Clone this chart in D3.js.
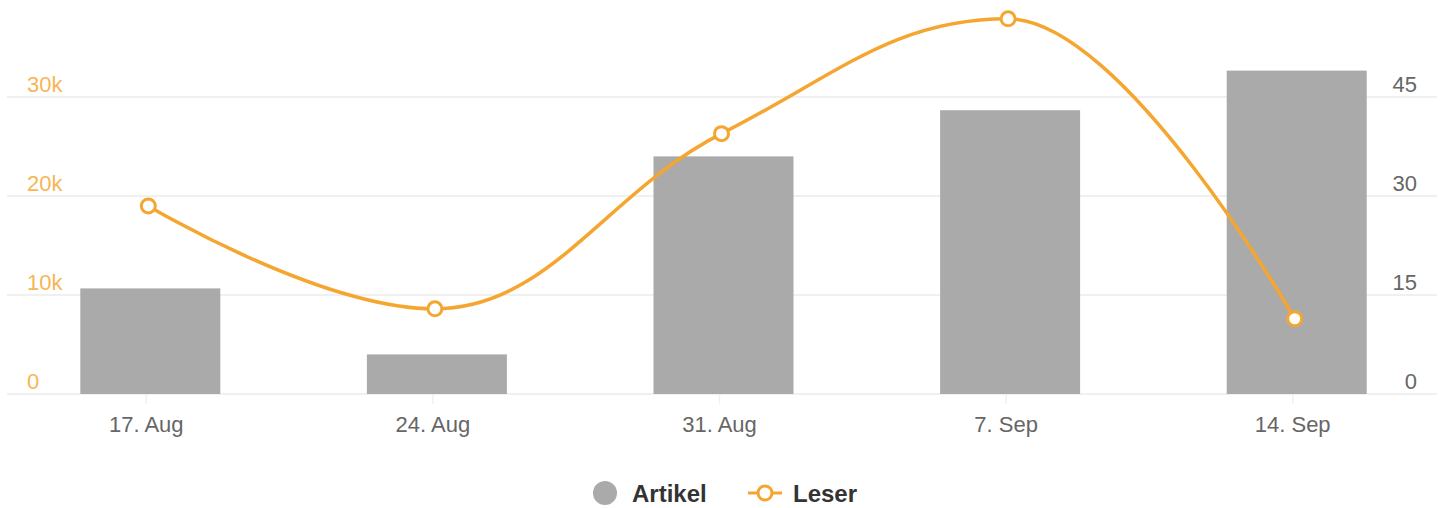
<!DOCTYPE html>
<html lang="de">
<head>
<meta charset="utf-8">
<title>Artikel / Leser</title>
<script src="https://cdnjs.cloudflare.com/ajax/libs/d3/7.8.5/d3.min.js"></script>
<style>
	body { margin: 0; background: #fff; }
	svg { display: block; font-family: "Liberation Sans", Arial, Helvetica, sans-serif; }
	.grid line { stroke: #f0f0f0; stroke-width: 2px; }
	.lab-left { fill: #f7b556; font-size: 22px; }
	.lab-right { fill: #666; font-size: 22px; }
	.lab-x { fill: #666; font-size: 22px; }
	.bar { fill: #aaaaaa; }
	.leser { fill: none; stroke: #f5a631; stroke-width: 3.5px; }
	.marker { fill: #fff; stroke: #f5a631; stroke-width: 3px; }
	.legend text { fill: #333; font-size: 24px; font-weight: bold; }
</style>
</head>
<body>
<div id="chart"></div>
<script>
var weeks = ["17. Aug", "24. Aug", "31. Aug", "7. Sep", "14. Sep"];
var artikel = [16, 6, 36, 43, 49];
var leser = [19000, 8600, 26300, 37900, 7600];
var leserTicks = [0, 10000, 20000, 30000];
var leserTickLabels = ["0", "10k", "20k", "30k"];
var artikelTicks = [0, 15, 30, 45];

var W = 1456, H = 508;
var pLeft = 7, pRight = 1437, pTop = -2, pBottom = 394;

var svg = d3.select("#chart").append("svg")
	.attr("width", W)
	.attr("height", H);

// bands a touch wider than the grid, the bars sit that way in the original
var x = d3.scaleBand().domain(weeks).range([pLeft, pRight + 3]).padding(0);
var yL = d3.scaleLinear().domain([0, 40000]).range([pBottom, pTop]);
var yR = d3.scaleLinear().domain([0, 60]).range([pBottom, pTop]);

function cx(d) { return x(d) + x.bandwidth() / 2; }

// grid lines (shared between both axes)
svg.append("g").attr("class", "grid")
	.selectAll("line").data(leserTicks).enter().append("line")
	.attr("x1", pLeft).attr("x2", pRight)
	.attr("y1", function(d) { return yL(d); })
	.attr("y2", function(d) { return yL(d); });

// x ticks
svg.append("g").selectAll("line").data(weeks).enter().append("line")
	.attr("x1", function(d) { return cx(d) - 4; })
	.attr("x2", function(d) { return cx(d) - 4; })
	.attr("y1", pBottom).attr("y2", pBottom + 10)
	.attr("stroke", "#f0f0f0").attr("stroke-width", 1.5);

svg.append("g").selectAll("text").data(weeks).enter().append("text")
	.attr("class", "lab-x")
	.attr("x", function(d) { return cx(d) - 4; })
	.attr("y", pBottom + 38)
	.attr("text-anchor", "middle")
	.text(function(d) { return d; });

// left axis labels
svg.append("g").selectAll("text").data(leserTicks).enter().append("text")
	.attr("class", "lab-left")
	.attr("x", 27)
	.attr("y", function(d) { return yL(d) - 5; })
	.text(function(d, i) { return leserTickLabels[i]; });

// right axis labels
svg.append("g").selectAll("text").data(artikelTicks).enter().append("text")
	.attr("class", "lab-right")
	.attr("x", 1417)
	.attr("y", function(d) { return yR(d) - 5; })
	.attr("text-anchor", "end")
	.text(function(d) { return d; });

// bars
var bw = 140;
svg.append("g").selectAll("rect").data(artikel).enter().append("rect")
	.attr("class", "bar")
	.attr("x", function(d, i) { return cx(weeks[i]) - bw / 2; })
	.attr("y", function(d) { return yR(d); })
	.attr("width", bw)
	.attr("height", function(d) { return pBottom - yR(d); });

// spline, same control point rule as highcharts
var pts = leser.map(function(d, i) { return { x: cx(weeks[i]) - 2, y: yL(d) }; });

function splinePath(p) {
	var s = 1.5, den = s + 1;
	var path = "M" + p[0].x + "," + p[0].y;
	var prevRX = p[0].x, prevRY = p[0].y;
	for (var i = 1; i < p.length; i++) {
		var pt = p[i], last = p[i - 1], next = p[i + 1];
		var lx = pt.x, ly = pt.y, rx = pt.x, ry = pt.y;
		if (next) {
			lx = (s * pt.x + last.x) / den;
			ly = (s * pt.y + last.y) / den;
			rx = (s * pt.x + next.x) / den;
			ry = (s * pt.y + next.y) / den;
			var corr = (ry - ly) * (rx - pt.x) / (rx - lx) + pt.y - ry;
			ly += corr; ry += corr;
			if (ly > last.y && ly > pt.y) { ly = Math.max(last.y, pt.y); ry = 2 * pt.y - ly; }
			else if (ly < last.y && ly < pt.y) { ly = Math.min(last.y, pt.y); ry = 2 * pt.y - ly; }
			if (ry > next.y && ry > pt.y) { ry = Math.max(next.y, pt.y); ly = 2 * pt.y - ry; }
			else if (ry < next.y && ry < pt.y) { ry = Math.min(next.y, pt.y); ly = 2 * pt.y - ry; }
		}
		path += "C" + prevRX + "," + prevRY + " " + lx + "," + ly + " " + pt.x + "," + pt.y;
		prevRX = rx; prevRY = ry;
	}
	return path;
}

svg.append("path").attr("class", "leser").attr("d", splinePath(pts));

svg.append("g").selectAll("circle").data(pts).enter().append("circle")
	.attr("class", "marker")
	.attr("cx", function(d) { return d.x; })
	.attr("cy", function(d) { return d.y; })
	.attr("r", 7);

// legend
var lg = svg.append("g").attr("class", "legend");
lg.append("circle").attr("cx", 605).attr("cy", 493).attr("r", 12).attr("fill", "#aaaaaa");
lg.append("text").attr("x", 632).attr("y", 502).text("Artikel");
lg.append("line").attr("x1", 748).attr("x2", 782).attr("y1", 493).attr("y2", 493)
	.attr("stroke", "#f5a631").attr("stroke-width", 3);
lg.append("circle").attr("class", "marker").attr("cx", 765).attr("cy", 493).attr("r", 7);
lg.append("text").attr("x", 793).attr("y", 502).text("Leser");
</script>
</body>
</html>
